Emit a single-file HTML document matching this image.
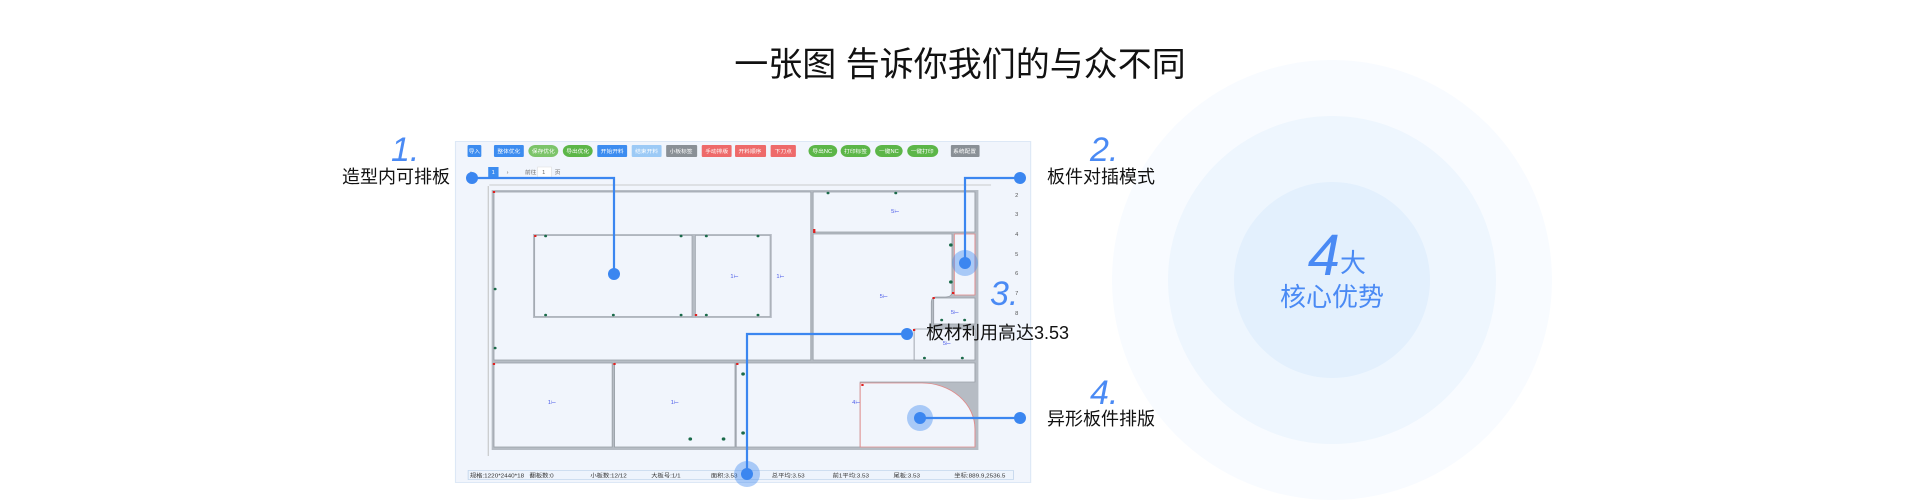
<!DOCTYPE html>
<html><head><meta charset="utf-8"><style>
html,body{margin:0;padding:0;background:#fff;width:1920px;height:500px;overflow:hidden}
svg{display:block}
text{font-family:"Liberation Sans","Noto Sans CJK SC",sans-serif}
</style></head><body>
<svg width="1920" height="500" viewBox="0 0 1920 500" xmlns="http://www.w3.org/2000/svg">
<!-- circles -->
<circle cx="1332" cy="280" r="220" fill="#f8fbff"/>
<circle cx="1332" cy="280" r="164" fill="#eef6fe"/>
<circle cx="1332" cy="280" r="98" fill="#e3f0fd"/>
<text x="1340" y="275" text-anchor="end" font-size="58" font-style="italic" fill="#4a8af4">4</text>
<text x="1340" y="272" font-size="26" fill="#4a8af4">大</text>
<text x="1332" y="306" text-anchor="middle" font-size="26" fill="#4a8af4">核心优势</text>
<!-- title -->
<text x="960" y="76" text-anchor="middle" font-size="34" fill="#111">一张图 告诉你我们的与众不同</text>
<!-- panel -->
<g transform="translate(440,0) scale(1.148,1) translate(-440,0)">
<rect x="453.5" y="141.5" width="501" height="341" fill="#f1f5fc" stroke="#dde8f6"/>
<g font-size="5" fill="#fff" text-anchor="middle">
<rect x="464" y="145" width="12" height="12" fill="#3c8cf0" rx="1"/>
<rect x="487" y="145" width="26" height="12" fill="#3c8cf0" rx="1"/>
<rect x="517" y="145" width="26" height="12" fill="#7cc46a" rx="6"/>
<rect x="547" y="145" width="26" height="12" fill="#5cb648" rx="6"/>
<rect x="577" y="145" width="26" height="12" fill="#3c8cf0" rx="1"/>
<rect x="607" y="145" width="26" height="12" fill="#9ccaf6" rx="1"/>
<rect x="637" y="145" width="27" height="12" fill="#8a9096" rx="1"/>
<rect x="668" y="145" width="26" height="12" fill="#ee6a6a" rx="1"/>
<rect x="697" y="145" width="27" height="12" fill="#ee6a6a" rx="1"/>
<rect x="728" y="145" width="22" height="12" fill="#ee6a6a" rx="1"/>
<rect x="761" y="145" width="25" height="12" fill="#5cb648" rx="6"/>
<rect x="789" y="145" width="26" height="12" fill="#5cb648" rx="6"/>
<rect x="819" y="145" width="24" height="12" fill="#5cb648" rx="6"/>
<rect x="847" y="145" width="27" height="12" fill="#5cb648" rx="6"/>
<rect x="885" y="145" width="25" height="12" fill="#8a9096" rx="1"/>
<text x="470" y="153">导入</text><text x="500" y="153">整体优化</text><text x="530" y="153">保存优化</text><text x="560" y="153">导出优化</text><text x="590" y="153">开始开料</text><text x="620" y="153">结束开料</text><text x="650" y="153">小板标签</text><text x="681" y="153">手动排版</text><text x="710" y="153">开料顺序</text><text x="739" y="153">下刀点</text><text x="773" y="153">导出NC</text><text x="802" y="153">打印标签</text><text x="831" y="153">一键NC</text><text x="860" y="153">一键打印</text><text x="897" y="153">系统配置</text>
</g>
<g font-size="5" fill="#666">
<text x="466" y="174">‹</text>
<rect x="482" y="167" width="9" height="10" fill="#3c8cf0"/><text x="485" y="174" fill="#fff">1</text>
<text x="498" y="174">›</text><text x="514" y="174">前往</text>
<rect x="525" y="167" width="12" height="10" fill="#fff" stroke="#ddd" stroke-width="0.5"/><text x="529" y="174">1</text><text x="540" y="174">页</text>
</g>
<line x1="483" y1="185" x2="920" y2="185" stroke="#bbb" stroke-width="0.8"/>
<line x1="482" y1="186" x2="482" y2="456" stroke="#bbb" stroke-width="0.8"/>
<g font-size="5" fill="#555"><text x="941" y="197">2</text><text x="941" y="216">3</text><text x="941" y="236">4</text><text x="941" y="256">5</text><text x="941" y="275">6</text><text x="941" y="295">7</text><text x="941" y="315">8</text></g>
<rect x="485" y="190" width="424" height="260" fill="#b6bcc4"/>
<g fill="#f1f5fc" stroke="#9aa0a8" stroke-width="0.8">
<rect x="487" y="192" width="276" height="168"/>
<rect x="765" y="192" width="141" height="40"/>
<path d="M765 234 H886 V292 Q886 297 880 297 H872 Q868 297 868 303 V360 H765 Z"/>
<rect x="888" y="234" width="18" height="61" stroke="#e08a8a"/>
<rect x="870" y="298" width="36" height="26"/>
<path d="M853 329 H906 V360 H853 Z"/>
<rect x="487" y="363" width="103" height="84"/>
<rect x="592" y="363" width="105" height="84"/>
<path d="M698 363 H906 V382 H806 V447 H698 Z"/>
<path d="M806 383 H860 A46 46 0 0 1 906 429 V447 H806 Z" stroke="#e08a8a"/>
</g>
<rect x="521" y="234" width="208" height="84" fill="#b6bcc4"/>
<rect x="522.5" y="235.5" width="137" height="81" fill="#f1f5fc" stroke="#9aa0a8" stroke-width="0.6"/>
<rect x="662.5" y="235.5" width="65" height="81" fill="#f1f5fc" stroke="#9aa0a8" stroke-width="0.6"/>
<g fill="#1a6a4a">
<circle cx="532" cy="236" r="1.3"/><circle cx="650" cy="236" r="1.3"/><circle cx="672" cy="236" r="1.3"/><circle cx="717" cy="236" r="1.3"/>
<circle cx="532" cy="315" r="1.3"/><circle cx="591" cy="315" r="1.3"/><circle cx="650" cy="315" r="1.3"/><circle cx="672" cy="315" r="1.3"/><circle cx="717" cy="315" r="1.3"/>
<circle cx="488" cy="289" r="1.3"/><circle cx="488" cy="348" r="1.3"/>
<circle cx="778" cy="193" r="1.3"/><circle cx="837" cy="193" r="1.3"/>
<circle cx="885" cy="245" r="1.6"/><circle cx="885" cy="282" r="1.6"/>
<circle cx="877" cy="320" r="1.3"/><circle cx="897" cy="320" r="1.3"/>
<circle cx="862" cy="358" r="1.3"/><circle cx="895" cy="358" r="1.3"/>
<circle cx="704" cy="374" r="1.6"/><circle cx="704" cy="433" r="1.6"/>
<circle cx="658" cy="439" r="1.6"/><circle cx="687" cy="439" r="1.6"/>
</g>
<g fill="#e02020">
<rect x="486" y="191" width="2" height="2"/><rect x="522" y="235" width="2" height="2"/><rect x="662" y="314" width="2" height="2"/>
<rect x="765" y="229" width="2" height="4"/><rect x="869" y="297" width="2" height="2"/><rect x="852" y="329" width="2" height="2"/>
<rect x="486" y="363" width="2" height="2"/><rect x="591" y="363" width="2" height="2"/><rect x="698" y="363" width="2" height="2"/><rect x="807" y="384" width="2" height="2"/><rect x="886" y="292" width="2" height="2"/>
</g>
<g font-size="5" fill="#4a5ae8"><text x="833" y="213">5⊢</text><text x="693" y="278">1⊢</text><text x="733" y="278">1⊢</text><text x="823" y="298">5⊢</text><text x="885" y="314">5⊢</text><text x="878" y="345">5⊢</text><text x="534" y="404">1⊢</text><text x="641" y="404">1⊢</text><text x="799" y="404">4⊢</text></g>
<rect x="464.5" y="470.5" width="475" height="9" fill="#eef4fc" stroke="#b8cfe8" stroke-width="0.6"/>
<g font-size="5.5" fill="#333"><text x="466" y="477.5">规格:1220*2440*18</text><text x="518" y="477.5">翻板数:0</text><text x="571" y="477.5">小板数:12/12</text><text x="624" y="477.5">大板号:1/1</text><text x="676" y="477.5">面积:3.53</text><text x="729" y="477.5">总平均:3.53</text><text x="782" y="477.5">前1平均:3.53</text><text x="835" y="477.5">尾板:3.53</text><text x="888" y="477.5">坐标:889.9,2536.5</text></g>
</g>
<!-- callouts -->
<g stroke="#3b86f0" stroke-width="2.2" fill="none">
<polyline points="472,178 614,178 614,274"/>
<polyline points="1020,178 965,178 965,263"/>
<polyline points="907,334 747,334 747,474"/>
<polyline points="920,418 1020,418"/>
</g>
<g fill="#3b86f0">
<circle cx="965" cy="263" r="13" opacity="0.4"/><circle cx="747" cy="474" r="13" opacity="0.4"/><circle cx="920" cy="418" r="13" opacity="0.4"/>
<circle cx="472" cy="178" r="6"/><circle cx="614" cy="274" r="6"/><circle cx="1020" cy="178" r="6"/><circle cx="965" cy="263" r="6"/>
<circle cx="907" cy="334" r="6"/><circle cx="747" cy="474" r="6"/><circle cx="920" cy="418" r="6"/><circle cx="1020" cy="418" r="6"/>
</g>
<g font-size="34" font-style="italic" fill="#4a8af4">
<text x="391" y="161">1.</text><text x="1090" y="161">2.</text><text x="990" y="305">3.</text><text x="1090" y="404">4.</text>
</g>
<g font-size="18" fill="#111">
<text x="342" y="183">造型内可排板</text><text x="1047" y="183">板件对插模式</text><text x="926" y="339">板材利用高达3.53</text><text x="1047" y="425">异形板件排版</text>
</g>
</svg>
</body></html>
